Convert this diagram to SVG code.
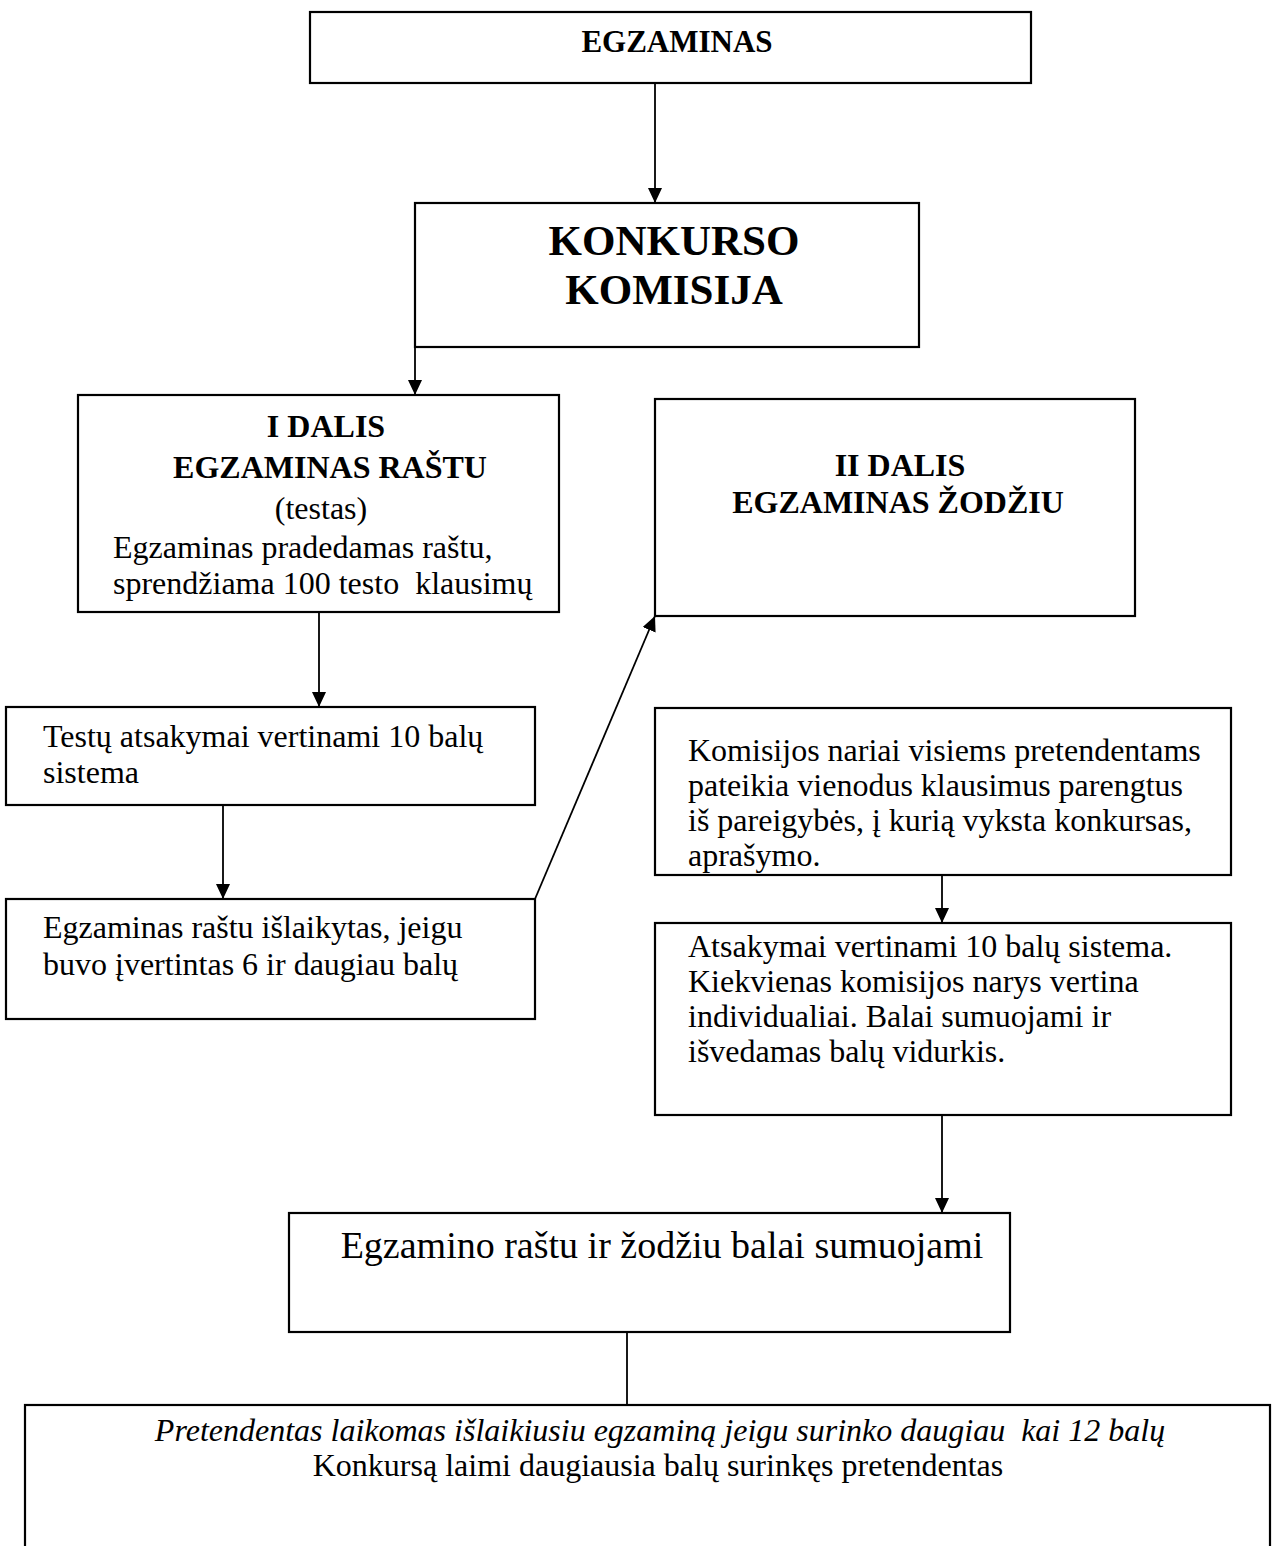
<svg xmlns="http://www.w3.org/2000/svg" width="1285" height="1546" viewBox="0 0 1285 1546">
<defs>
<marker id="ah" markerWidth="15" markerHeight="14" refX="15" refY="7" orient="auto" markerUnits="userSpaceOnUse">
<path d="M0,0 L15,7 L0,14 Z" fill="#000"/>
</marker>
<style>
rect{fill:#fff;stroke:#000;stroke-width:2.2}
.c line{stroke:#000;stroke-width:1.8}
.a{marker-end:url(#ah)}
text{font-family:"Liberation Serif","Times New Roman",serif;fill:#000}
.b{font-weight:bold}
.m{text-anchor:middle}
.t{font-size:32px}
</style>
</defs>
<rect x="0" y="0" width="1285" height="1546" style="stroke:none"/>
<g id="egzaminas"><rect x="310" y="12" width="721" height="71"/><text class="b m" x="677" y="52" font-size="31">EGZAMINAS</text></g>
<g id="konkurso"><rect x="415" y="203" width="504" height="144"/><text class="b m" x="674" y="255" font-size="43">KONKURSO</text><text class="b m" x="674" y="304" font-size="43">KOMISIJA</text></g>
<g id="dalis1"><rect x="78" y="395" width="481" height="217"/>
<text class="b m" x="326" y="437" font-size="32">I DALIS</text>
<text class="b m" x="330" y="478" font-size="32">EGZAMINAS RAŠTU</text>
<text class="m t" x="321" y="519">(testas)</text>
<text class="t" x="113" y="558">Egzaminas pradedamas raštu,</text>
<text class="t" x="113" y="594" xml:space="preserve">sprendžiama 100 testo  klausimų</text></g>
<g id="dalis2"><rect x="655" y="399" width="480" height="217"/>
<text class="b m" x="900" y="476" font-size="32">II DALIS</text>
<text class="b m" x="898" y="513" font-size="32">EGZAMINAS ŽODŽIU</text></g>
<g id="testu"><rect x="6" y="707" width="529" height="98"/>
<text class="t" x="43" y="747">Testų atsakymai vertinami 10 balų</text>
<text class="t" x="43" y="783">sistema</text></g>
<g id="islaikytas"><rect x="6" y="899" width="529" height="120"/>
<text class="t" x="43" y="938">Egzaminas raštu išlaikytas, jeigu</text>
<text class="t" x="43" y="975">buvo įvertintas 6 ir daugiau balų</text></g>
<g id="komisijos"><rect x="655" y="708" width="576" height="167"/>
<text class="t" x="688" y="761">Komisijos nariai visiems pretendentams</text>
<text class="t" x="688" y="796">pateikia vienodus klausimus parengtus</text>
<text class="t" x="688" y="831">iš pareigybės, į kurią vyksta konkursas,</text>
<text class="t" x="688" y="866">aprašymo.</text></g>
<g id="atsakymai"><rect x="655" y="923" width="576" height="192"/>
<text class="t" x="688" y="957">Atsakymai vertinami 10 balų sistema.</text>
<text class="t" x="688" y="992">Kiekvienas komisijos narys vertina</text>
<text class="t" x="688" y="1027">individualiai. Balai sumuojami ir</text>
<text class="t" x="688" y="1062">išvedamas balų vidurkis.</text></g>
<g id="sumuojami"><rect x="289" y="1213" width="721" height="119"/>
<text class="m" x="662" y="1258" font-size="38">Egzamino raštu ir žodžiu balai sumuojami</text></g>
<g id="rezultatas"><rect x="25" y="1405" width="1245" height="170"/>
<text class="m" x="660" y="1441" font-size="32" font-style="italic" xml:space="preserve">Pretendentas laikomas išlaikiusiu egzaminą jeigu surinko daugiau  kai 12 balų</text>
<text class="m" x="658" y="1476" font-size="32">Konkursą laimi daugiausia balų surinkęs pretendentas</text></g>
<g class="c">
<line class="a" x1="655" y1="83" x2="655" y2="203"/>
<line class="a" x1="415" y1="347" x2="415" y2="395"/>
<line class="a" x1="319" y1="612" x2="319" y2="707"/>
<line class="a" x1="223" y1="805" x2="223" y2="899"/>
<line class="a" x1="535" y1="899" x2="655" y2="616"/>
<line class="a" x1="942" y1="875" x2="942" y2="923"/>
<line class="a" x1="942" y1="1115" x2="942" y2="1213"/>
<line x1="627" y1="1332" x2="627" y2="1405"/>
</g>
</svg>
